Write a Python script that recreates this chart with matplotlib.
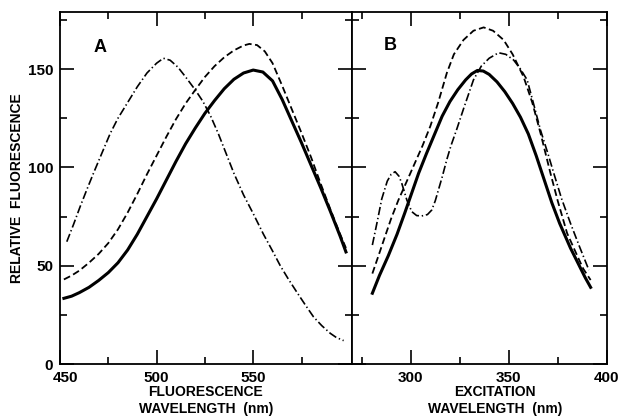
import matplotlib
matplotlib.use("Agg")
import matplotlib.pyplot as plt
import matplotlib.transforms as mtransforms
from matplotlib.ticker import FixedLocator

plt.rcParams["font.family"] = ["Liberation Sans", "DejaVu Sans"]
plt.rcParams["font.weight"] = "bold"
plt.rcParams["lines.scale_dashes"] = False

# panel A: fluorescence emission spectra
a_solid_x = [452, 456, 460, 465, 470, 475, 480, 485, 490, 495, 500, 505, 510, 515, 520, 525, 530, 535,
             540, 545, 550, 555, 560, 565, 570, 575, 580, 585, 590, 595, 598]
a_solid_y = [33.4, 34.5, 36.3, 39, 42.5, 46.5, 51.5, 58, 66, 75, 84, 93.5, 103, 112, 120, 127.5, 134, 140,
             144.8, 148, 149.5, 148.5, 144, 134.5, 123.5, 112.5, 101, 89.5, 77.5, 65, 57]

a_dash_x = [452, 456, 460, 465, 470, 475, 480, 485, 490, 495, 500, 505, 510, 515, 520, 525, 530, 535,
            540, 545, 548, 552, 556, 560, 565, 570, 575, 580, 585, 590, 595, 598]
a_dash_y = [43, 45, 47.5, 51.5, 56, 61.5, 68.5, 77, 86.5, 96.5, 106, 115.5, 124.5, 132.5, 139.4, 146, 151.5, 156,
            159.5, 162, 162.8, 162.2, 159, 153, 141.5, 129.5, 117.5, 105, 91.5, 78.5, 66, 59]

a_dd_x = [453.5, 457, 460.4, 464, 467.3, 472, 476, 480, 485, 490, 495, 500, 503.5, 507, 511, 515, 520, 524,
          528, 532, 536, 540, 545, 550, 555.3, 560, 564, 568, 572.6, 577, 581.2, 585.5, 589.9, 593, 596.8]
a_dd_y = [62.2, 71, 80, 89, 97, 108, 117.3, 125, 133, 141, 148, 153, 155.5, 154.5, 151, 146, 139.4, 133.5,
          126, 117, 107, 97, 86, 76.5, 66, 57.5, 50, 43.5, 36.5, 30, 24, 19.5, 15.6, 13.5, 11.9]

# panel B: excitation spectra
b_solid_x = [280.4, 284, 288.5, 293, 297, 300.5, 304, 308, 312, 316, 320, 324, 328, 331, 334, 337, 340, 344,
             348, 352, 356, 360, 364, 368, 372, 376, 381.5, 386, 389, 391.8]
b_solid_y = [36, 45, 55, 66, 77, 87, 97, 107, 116.5, 126, 133.5, 139.5, 144.5, 147.5, 149.3, 149, 147.3, 143.5,
             138.5, 132.5, 125.5, 117, 106, 94, 82, 71.5, 59, 50, 44, 39]

b_dash_x = [280.4, 283.5, 286.8, 290, 293.7, 298, 302, 306, 310, 314, 318.4, 322, 326.9, 332, 337.2, 342,
            347.4, 352, 357.6, 362, 366.2, 371.3, 375, 379.8, 385, 388, 391.8]
b_dash_y = [46, 55, 64.7, 74, 83.4, 93, 102, 111, 121, 133, 148, 157.5, 164.8, 169.5, 171.2, 169.5,
            164.8, 157.5, 146, 133, 117.5, 97, 83, 66.5, 55, 48.5, 42.7]

b_dd_x = [280.4, 283, 285.2, 288, 290, 292, 294, 295.4, 298, 300.5, 303, 305.6, 308.5, 310.7, 312.5, 314.1,
          316, 318.4, 320.5, 323.5, 327, 332, 336, 340, 344.8, 348.5, 352.5, 356, 359.4, 362.5, 366.2, 370,
          373, 377, 381.5, 386, 390.9]
b_dd_y = [60.5, 73, 84, 93, 96.5, 97.8, 95.5, 91.9, 83.4, 77.5, 75.5, 75.3, 76, 78.3, 83, 88.5,
          95, 104, 111, 119.5, 130, 144.5, 151.5, 155.5, 158.3, 157.5, 154.6, 150, 144.5, 133, 119, 107,
          97, 84, 71.6, 60, 47.8]

y_major = [0, 50, 100, 150]
y_minor = [25, 75, 125, 175]

DASHED = (0, (5, 2.5))
DASHDOT = (0, (6, 2, 1, 2))

fig = plt.figure(figsize=(6.22, 4.2), dpi=100)
ax_a = fig.add_axes([0.0965, 0.1333, 0.469, 0.838])
ax_b = fig.add_axes([0.5659, 0.1333, 0.4095, 0.838])

for ax in (ax_a, ax_b):
    ax.set_ylim(0, 179)
    ax.yaxis.set_major_locator(FixedLocator(y_major))
    ax.yaxis.set_minor_locator(FixedLocator(y_minor))
    ax.tick_params(which="both", direction="in", top=True, right=True,
                   width=1.2, labelsize=11, pad=5)
    ax.tick_params(which="major", length=10)
    ax.tick_params(which="minor", length=5)
    for s in ax.spines.values():
        s.set_linewidth(1.3)

ax_a.plot(a_solid_x, a_solid_y, color="black", lw=2.2)
ax_a.plot(a_dash_x, a_dash_y, color="black", lw=1.3, linestyle=DASHED)
ax_a.plot(a_dd_x, a_dd_y, color="black", lw=1.2, linestyle=DASHDOT)
ax_a.set_xlim(450, 601)
ax_a.xaxis.set_major_locator(FixedLocator([450, 500, 550]))
ax_a.xaxis.set_minor_locator(FixedLocator([475, 525, 575]))
ax_a.set_ylabel("RELATIVE  FLUORESCENCE", fontsize=10, fontweight="bold")
ax_a.yaxis.set_label_coords(-0.122, 0.5)
ax_a.set_xlabel("FLUORESCENCE\nWAVELENGTH  (nm)", fontsize=10, fontweight="bold", linespacing=1.25)
ax_a.xaxis.set_label_coords(0.5, -0.06)
ax_a.text(0.137, 0.9, "A", transform=ax_a.transAxes, fontsize=13, fontweight="bold",
          ha="center", va="center")
# the "450" label sits a bit right of its tick in the original
first = ax_a.get_xticklabels()[0]
first.set_transform(first.get_transform() + mtransforms.ScaledTranslation(5 / 100, 0, fig.dpi_scale_trans))

ax_b.plot(b_solid_x, b_solid_y, color="black", lw=2.2)
ax_b.plot(b_dash_x, b_dash_y, color="black", lw=1.3, linestyle=DASHED)
ax_b.plot(b_dd_x, b_dd_y, color="black", lw=1.2, linestyle=DASHDOT)
ax_b.set_xlim(270, 400)
ax_b.xaxis.set_major_locator(FixedLocator([300, 350, 400]))
ax_b.xaxis.set_minor_locator(FixedLocator([275, 325, 375]))
ax_b.tick_params(labelleft=False)
ax_b.set_xlabel("EXCITATION\nWAVELENGTH  (nm)", fontsize=10, fontweight="bold", linespacing=1.25)
ax_b.xaxis.set_label_coords(0.561, -0.06)
ax_b.text(0.149, 0.906, "B", transform=ax_b.transAxes, fontsize=13, fontweight="bold",
          ha="center", va="center")

fig.savefig("out.png", dpi=100)
